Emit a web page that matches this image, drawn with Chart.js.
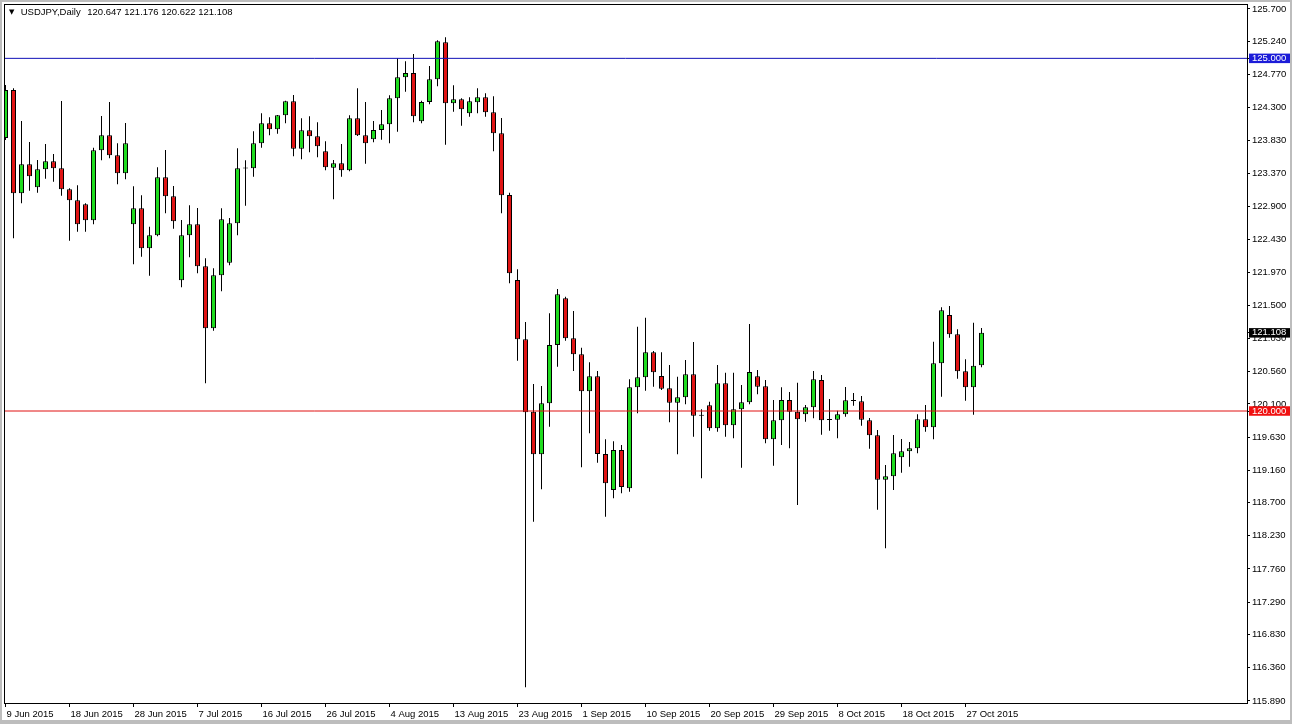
<!DOCTYPE html>
<html>
<head>
<meta charset="utf-8">
<title>USDJPY,Daily</title>
<script src="https://cdn.jsdelivr.net/npm/chart.js@4.4.1/dist/chart.umd.min.js"></script>
<style>
html, body { margin: 0; padding: 0; background: #bdbdbd; width: 1292px; height: 724px; overflow: hidden; }
#mycanvas { position: absolute; left: 2px; top: 2px; background: #fff; }
</style>
</head>
<body>
<canvas id="mycanvas" width="1288" height="718"></canvas>
<script>
// USDJPY daily bars, 9 Jun 2015 .. 30 Oct 2015
var symbol = 'USDJPY,Daily';
var dateLabels = ['9 Jun 2015', '18 Jun 2015', '28 Jun 2015', '7 Jul 2015', '16 Jul 2015', '26 Jul 2015',
	'4 Aug 2015', '13 Aug 2015', '23 Aug 2015', '1 Sep 2015', '10 Sep 2015', '20 Sep 2015',
	'29 Sep 2015', '8 Oct 2015', '18 Oct 2015', '27 Oct 2015'];
var labelEvery = 8; // one date label every 8 bars

var opens = [123.871, 124.551, 123.087, 123.498, 123.172, 123.427, 123.540, 123.441, 123.143, 122.987,
	122.931, 122.704, 123.696, 123.909, 123.625, 123.370, 122.647, 122.874, 122.307, 122.491,
	123.313, 123.044, 121.853, 122.491, 122.647, 122.052, 121.173, 121.924, 122.103, 122.661,
	123.437, 123.441, 123.795, 124.079, 123.994, 124.192, 124.391, 123.719, 123.980, 123.895,
	123.682, 123.449, 123.512, 123.413, 124.150, 123.909, 123.852, 123.984, 124.065, 124.433,
	124.731, 124.792, 124.107, 124.381, 124.703, 125.227, 124.363, 124.419, 124.221, 124.377,
	124.448, 124.235, 123.937, 123.062, 121.857, 121.017, 119.990, 119.386, 120.109, 120.936,
	121.598, 121.031, 120.804, 120.279, 120.492, 119.390, 118.880, 119.447, 118.904, 120.336,
	120.478, 120.832, 120.496, 120.322, 120.118, 120.194, 120.520, 119.938, 120.081, 119.755,
	120.393, 119.797, 120.024, 120.123, 120.492, 120.350, 119.599, 119.868, 120.156, 119.990,
	119.953, 120.052, 120.440, 119.879, 119.877, 119.953, 120.149, 120.138, 119.868, 119.655,
	119.026, 119.074, 119.344, 119.429, 119.471, 119.882, 119.769, 120.676, 121.361, 121.087,
	120.563, 120.336, 120.647];
var highs = [124.622, 124.575, 124.112, 123.814, 123.559, 123.786, 123.644, 124.395, 123.157, 123.200,
	122.945, 123.733, 124.183, 124.381, 123.795, 124.084, 123.186, 123.058, 122.613, 123.455,
	123.700, 123.190, 122.708, 122.916, 122.878, 122.165, 122.023, 122.874, 122.736, 123.725,
	123.554, 123.966, 124.221, 124.164, 124.197, 124.400, 124.480, 124.150, 124.178, 124.093,
	123.824, 123.559, 123.786, 124.192, 124.575, 124.381, 124.112, 124.268, 124.476, 125.001,
	124.958, 125.062, 124.399, 124.891, 125.256, 125.298, 124.618, 124.433, 124.448, 124.575,
	124.504, 124.462, 124.154, 123.095, 122.009, 121.262, 120.383, 120.354, 121.385, 121.730,
	121.621, 121.418, 120.897, 120.690, 120.567, 119.599, 119.570, 119.518, 120.449, 121.195,
	121.323, 120.850, 120.832, 120.652, 120.486, 120.723, 120.978, 120.024, 120.132, 120.652,
	120.543, 120.543, 120.369, 121.233, 120.581, 120.440, 120.156, 120.336, 120.269, 120.401,
	120.085, 120.567, 120.510, 120.170, 120.004, 120.340, 120.255, 120.213, 119.901, 119.731,
	119.234, 119.660, 119.603, 119.560, 119.953, 120.085, 120.983, 121.470, 121.489, 121.158,
	120.733, 121.252, 121.176];
var lows = [123.842, 122.449, 122.945, 123.123, 123.095, 123.294, 123.251, 123.053, 122.415, 122.542,
	122.542, 122.647, 123.554, 123.583, 123.214, 123.285, 122.080, 122.188, 121.918, 122.477,
	122.803, 122.585, 121.754, 122.179, 121.952, 120.393, 121.138, 121.697, 122.066, 122.491,
	122.911, 123.322, 123.733, 123.909, 123.932, 124.079, 123.611, 123.569, 123.668, 123.597,
	123.413, 123.002, 123.322, 123.398, 123.900, 123.506, 123.810, 123.847, 123.795, 123.960,
	124.527, 124.093, 124.079, 124.348, 124.604, 123.776, 124.244, 124.045, 124.173, 124.221,
	124.173, 123.682, 122.803, 121.811, 120.713, 116.083, 118.430, 118.890, 119.777, 120.628,
	120.997, 120.567, 119.202, 119.684, 119.267, 118.501, 118.762, 118.833, 118.856, 119.967,
	120.288, 120.345, 120.298, 119.840, 119.386, 120.095, 119.636, 119.046, 119.721, 119.707,
	119.636, 119.613, 119.196, 120.095, 120.237, 119.542, 119.224, 119.518, 119.471, 118.667,
	119.848, 119.897, 119.664, 119.721, 119.613, 119.919, 120.075, 119.792, 119.465, 118.601,
	118.053, 118.880, 119.125, 119.210, 119.400, 119.707, 119.599, 120.203, 121.039, 120.458,
	120.146, 119.948, 120.622];
var closes = [124.551, 123.087, 123.498, 123.328, 123.427, 123.540, 123.441, 123.143, 122.987, 122.647,
	122.704, 123.696, 123.909, 123.625, 123.370, 123.795, 122.874, 122.307, 122.491, 123.313,
	123.044, 122.690, 122.491, 122.647, 122.052, 121.173, 121.924, 122.718, 122.661, 123.441,
	123.445, 123.795, 124.079, 123.994, 124.192, 124.391, 123.719, 123.980, 123.895, 123.753,
	123.455, 123.512, 123.413, 124.150, 123.909, 123.795, 123.984, 124.065, 124.433, 124.731,
	124.792, 124.178, 124.381, 124.703, 125.242, 124.363, 124.419, 124.277, 124.391, 124.448,
	124.235, 123.937, 123.058, 121.952, 121.017, 119.982, 119.386, 120.109, 120.936, 121.655,
	121.031, 120.804, 120.279, 120.492, 119.390, 118.975, 119.447, 118.922, 120.336, 120.478,
	120.832, 120.549, 120.316, 120.118, 120.194, 120.520, 119.933, 119.931, 119.755, 120.393,
	119.797, 120.024, 120.123, 120.553, 120.345, 119.599, 119.868, 120.156, 119.990, 119.882,
	120.052, 120.449, 119.868, 119.874, 119.953, 120.152, 120.143, 119.877, 119.655, 119.026,
	119.074, 119.400, 119.429, 119.471, 119.882, 119.769, 120.676, 121.428, 121.087, 120.563,
	120.336, 120.642, 121.108];

var priceTicks = [125.700, 125.240, 124.770, 124.300, 123.830, 123.370, 122.900, 122.430, 121.970, 121.500,
	121.030, 120.560, 120.100, 119.630, 119.160, 118.700, 118.230, 117.760, 117.290, 116.830,
	116.360, 115.890];
var levels = [125.000, 120.000];

// visible range of the window
var xMin = -0.1875, xMax = 155.1875;
var yMin = 115.860, yMax = 125.7706;

var last = closes.length - 1;
var lastPrice = closes[last];

var bodies = [], wicks = [], bodyColors = [];
for (var i = 0; i < opens.length; i++) {
	bodies.push({x: i, y: [opens[i], closes[i]]});
	wicks.push({x: i, y: [lows[i], highs[i]]});
	bodyColors.push(closes[i] >= opens[i] ? '#1fdc1f' : '#e01414');
}

var levelColors = ['#1010b8', '#e01010'];
var boxColors = {};
boxColors[levels[0].toFixed(3)] = '#1c1cd8';
boxColors[levels[1].toFixed(3)] = '#f01010';
boxColors[lastPrice.toFixed(3)] = '#000000';

function boxColor(c) {
	if (!c.tick) return null;
	return boxColors[c.tick.value.toFixed(3)] || null;
}

var levelSets = levels.map(function(lv, n) {
	return {
		type: 'line',
		data: [{x: xMin, y: lv}, {x: xMax, y: lv}],
		borderColor: levelColors[n],
		borderWidth: 1,
		pointRadius: 0,
		tension: 0,
		order: 0,
		clip: 0
	};
});

var header = {
	id: 'header',
	afterDraw: function(chart) {
		var a = chart.chartArea, ctx = chart.ctx;
		ctx.save();
		ctx.strokeStyle = '#000';
		ctx.lineWidth = 1;
		ctx.strokeRect(Math.round(a.left) + 0.5, Math.round(a.top) + 0.5,
			Math.round(a.right - a.left), Math.round(a.bottom - a.top));
		ctx.fillStyle = '#000';
		ctx.textBaseline = 'middle';
		ctx.font = '7px "DejaVu Sans"';
		ctx.fillText('\u25BC', a.left + 5, a.top + 8.5);
		ctx.font = '9.5px "Liberation Sans"';
		ctx.fillText(symbol, a.left + 16.7, a.top + 8.5);
		var ohlc = [opens[last], highs[last], lows[last], closes[last]].map(function(v) { return v.toFixed(3); }).join(' ');
		ctx.fillText(ohlc, a.left + 83.3, a.top + 8.5);
		ctx.restore();
	}
};

var ctx = document.getElementById('mycanvas');

var chart = new Chart(ctx, {
	type: 'bar',
	data: {
		datasets: levelSets.concat([
			{
				data: bodies,
				backgroundColor: bodyColors,
				borderColor: '#000',
				borderWidth: 1,
				borderSkipped: false,
				barThickness: 5,
				minBarLength: 1,
				grouped: false,
				inflateAmount: 0,
				order: 1,
				clip: 0
			},
			{
				data: wicks,
				backgroundColor: '#000',
				borderWidth: 0,
				barThickness: 1,
				grouped: false,
				inflateAmount: 0,
				order: 2,
				clip: 0
			}
		])
	},
	options: {
		responsive: false,
		maintainAspectRatio: false,
		animation: false,
		devicePixelRatio: 1,
		layout: { padding: { left: 2, top: 2, right: 0, bottom: 0 } },
		plugins: {
			legend: { display: false },
			tooltip: { enabled: false }
		},
		scales: {
			x: {
				type: 'linear',
				position: 'bottom',
				min: xMin,
				max: xMax,
				bounds: 'data',
				offset: false,
				afterBuildTicks: function(s) {
					s.ticks = dateLabels.map(function(d, n) { return {value: n * labelEvery}; });
				},
				afterFit: function(s) {
					s.height = 17;
					s.paddingLeft = 0;
					s.paddingRight = 0;
				},
				ticks: {
					autoSkip: false,
					maxRotation: 0,
					minRotation: 0,
					align: 'start',
					labelOffset: 1,
					padding: 2,
					color: '#000',
					font: { family: 'Liberation Sans', size: 9.5 },
					callback: function(v, n) { return dateLabels[n]; }
				},
				grid: { offset: false, drawOnChartArea: false, drawTicks: true, tickLength: 4, color: '#000' },
				border: { display: false }
			},
			y: {
				type: 'linear',
				position: 'right',
				min: yMin,
				max: yMax,
				bounds: 'data',
				afterBuildTicks: function(s) {
					s.ticks = priceTicks.concat(levels, [lastPrice]).map(function(v) { return {value: v}; });
				},
				afterFit: function(s) {
					s.width = 43;
					s.paddingTop = 0;
					s.paddingBottom = 0;
				},
				ticks: {
					padding: 2,
					font: { family: 'Liberation Sans', size: 9.5, lineHeight: 1 },
					color: function(c) { return boxColor(c) ? '#fff' : '#000'; },
					showLabelBackdrop: function(c) { return !!boxColor(c); },
					backdropColor: function(c) { return boxColor(c) || 'rgba(0,0,0,0)'; },
					backdropPadding: { top: 0, bottom: 0, left: 3, right: 4 },
					callback: function(v) { return Number(v).toFixed(3); }
				},
				grid: { drawOnChartArea: false, drawTicks: true, tickLength: 3, color: '#000' },
				border: { display: false }
			}
		}
	},
	plugins: [header]
});
</script>
</body>
</html>
